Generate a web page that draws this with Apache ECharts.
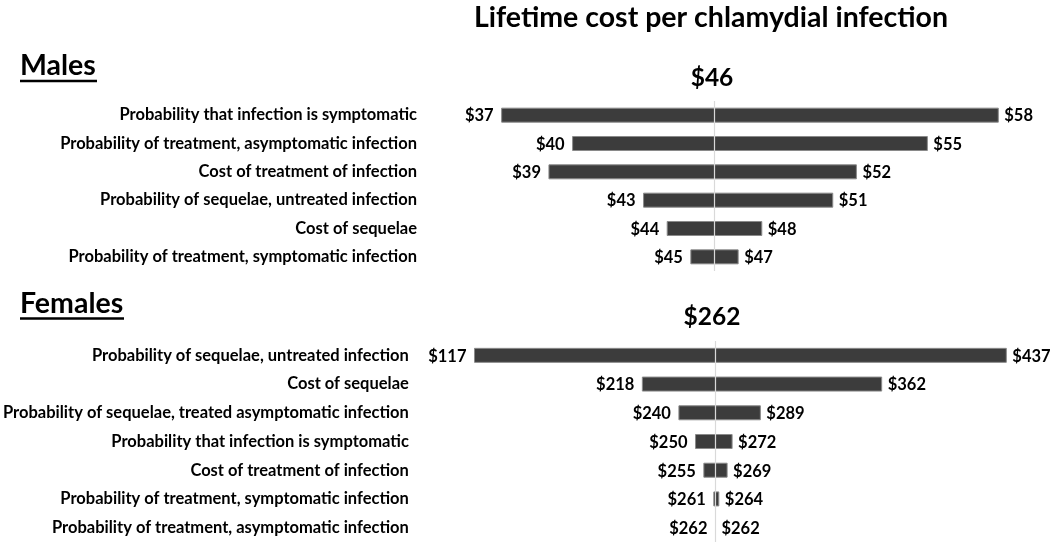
<!DOCTYPE html>
<html>
<head>
<meta charset="utf-8">
<script src="https://cdn.jsdelivr.net/npm/echarts@6/dist/echarts.min.js"></script>
<style>
  html, body { margin: 0; padding: 0; background: #ffffff; }
  #chart { width: 1050px; height: 542px; }
</style>
</head>
<body>
<div id="chart"></div>
<script>
// ---- Data ----
const chartTitle = 'Lifetime cost per chlamydial infection';

const maleTitle = 'Males';
const maleBase = 46;
const maleCategories = [
  'Probability that infection is symptomatic',
  'Probability of treatment, asymptomatic infection',
  'Cost of treatment of infection',
  'Probability of sequelae, untreated infection',
  'Cost of sequelae',
  'Probability of treatment, symptomatic infection'
];
const maleLow  = [37, 40, 39, 43, 44, 45];
const maleHigh = [58, 55, 52, 51, 48, 47];

const femaleTitle = 'Females';
const femaleBase = 262;
const femaleCategories = [
  'Probability of sequelae, untreated infection',
  'Cost of sequelae',
  'Probability of sequelae, treated asymptomatic infection',
  'Probability that infection is symptomatic',
  'Cost of treatment of infection',
  'Probability of treatment, symptomatic infection',
  'Probability of treatment, asymptomatic infection'
];
const femaleLow  = [117, 218, 240, 250, 255, 261, 262];
const femaleHigh = [437, 362, 289, 272, 269, 264, 262];

// ---- Styling ----
const FONT = 'Lato';
const BAR_FILL = '#3c3c3c';
const BAR_BORDER = '#8a8a8a';
const CENTER_LINE = '#d9d9d9';
const VALUE_FONT_SIZE = 16.5;
const CAT_FONT_SIZE = 16.5;

const GRID_LEFT = 430;
const GRID_WIDTH = 610;
const CENTER_X = 714.5;

function axisRange(base, pxPerUnit) {
  const min = base - (CENTER_X - GRID_LEFT) / pxPerUnit;
  return { min: min, max: min + GRID_WIDTH / pxPerUnit };
}
const maleRange = axisRange(maleBase, 23.65);
const femaleRange = axisRange(femaleBase, 1.667);

const fmt = v => '$' + v;

function buildData(low, high, base) {
  return low.map((l, i) => [i, l, high[i], base]);
}

function renderItem(params, api) {
  const cat = api.value(0);
  const low = api.value(1);
  const high = api.value(2);
  const base = api.value(3);
  const pLow = api.coord([low, cat]);
  const pBase = api.coord([base, cat]);
  const pHigh = api.coord([high, cat]);
  const bandH = api.size([0, 1])[1];
  const h = Math.round(bandH * 0.5);
  const y = pBase[1] - h / 2;
  const font = 'bold ' + VALUE_FONT_SIZE + 'px ' + FONT;
  const children = [];
  if (pBase[0] - pLow[0] > 0) {
    children.push({
      type: 'rect',
      shape: { x: pLow[0], y: y, width: pBase[0] - pLow[0], height: h },
      style: { fill: BAR_FILL, stroke: BAR_BORDER, lineWidth: 1 }
    });
  }
  if (pHigh[0] - pBase[0] > 0) {
    children.push({
      type: 'rect',
      shape: { x: pBase[0], y: y, width: pHigh[0] - pBase[0], height: h },
      style: { fill: BAR_FILL, stroke: BAR_BORDER, lineWidth: 1 }
    });
  }
  children.push({
    type: 'text',
    x: pLow[0] - 8, y: pBase[1] + 1,
    style: { text: fmt(low), font: font, fill: '#000', align: 'right', verticalAlign: 'middle' }
  });
  children.push({
    type: 'text',
    x: pHigh[0] + 6, y: pBase[1] + 1,
    style: { text: fmt(high), font: font, fill: '#000', align: 'left', verticalAlign: 'middle' }
  });
  return { type: 'group', children: children };
}

function centerMark(base) {
  return {
    silent: true,
    symbol: 'none',
    label: { show: false },
    lineStyle: { color: CENTER_LINE, width: 1.2, type: 'solid' },
    data: [{ xAxis: base }],
    z: 10
  };
}

const chart = echarts.init(document.getElementById('chart'), null, { renderer: 'canvas' });

const catAxisCommon = {
  type: 'category',
  inverse: true,
  axisLine: { show: false },
  axisTick: { show: false },
  splitLine: { show: false }
};

const option = {
  backgroundColor: '#ffffff',
  animation: false,
  textStyle: { fontFamily: FONT },
  grid: [
    { left: GRID_LEFT, width: GRID_WIDTH, top: 101, height: 170 },
    { left: GRID_LEFT, width: GRID_WIDTH, top: 341, height: 202 }
  ],
  xAxis: [
    { type: 'value', gridIndex: 0, min: maleRange.min, max: maleRange.max, show: false },
    { type: 'value', gridIndex: 1, min: femaleRange.min, max: femaleRange.max, show: false }
  ],
  yAxis: [
    Object.assign({}, catAxisCommon, {
      gridIndex: 0, data: maleCategories,
      axisLabel: { margin: 13, color: '#000', fontWeight: 'bold', fontSize: CAT_FONT_SIZE, fontFamily: FONT }
    }),
    Object.assign({}, catAxisCommon, {
      gridIndex: 1, data: femaleCategories,
      axisLabel: { margin: 23, color: '#000', fontWeight: 'bold', fontSize: CAT_FONT_SIZE, fontFamily: FONT }
    })
  ],
  series: [
    {
      type: 'custom', name: maleTitle, xAxisIndex: 0, yAxisIndex: 0,
      renderItem: renderItem, clip: false,
      encode: { x: [1, 2, 3], y: 0 },
      data: buildData(maleLow, maleHigh, maleBase),
      markLine: centerMark(maleBase)
    },
    {
      type: 'custom', name: femaleTitle, xAxisIndex: 1, yAxisIndex: 1,
      renderItem: renderItem, clip: false,
      encode: { x: [1, 2, 3], y: 0 },
      data: buildData(femaleLow, femaleHigh, femaleBase),
      markLine: centerMark(femaleBase)
    }
  ],
  graphic: [
    { type: 'text', x: 711, y: 18, style: { text: chartTitle, font: 'bold 28.5px ' + FONT, fill: '#000', align: 'center', verticalAlign: 'middle' } },
    { type: 'text', x: 20, y: 66, style: { text: maleTitle, font: 'bold 28.5px ' + FONT, fill: '#000', align: 'left', verticalAlign: 'middle' } },
    { type: 'line', shape: { x1: 20, y1: 81, x2: 97, y2: 81 }, style: { stroke: '#000', lineWidth: 2.5 } },
    { type: 'text', x: 712, y: 78, style: { text: fmt(maleBase), font: 'bold 24.5px ' + FONT, fill: '#000', align: 'center', verticalAlign: 'middle' } },
    { type: 'text', x: 20, y: 304, style: { text: femaleTitle, font: 'bold 28.5px ' + FONT, fill: '#000', align: 'left', verticalAlign: 'middle' } },
    { type: 'line', shape: { x1: 20, y1: 318.5, x2: 124, y2: 318.5 }, style: { stroke: '#000', lineWidth: 2.5 } },
    { type: 'text', x: 712, y: 317, style: { text: fmt(femaleBase), font: 'bold 24.5px ' + FONT, fill: '#000', align: 'center', verticalAlign: 'middle' } }
  ]
};

chart.setOption(option);
</script>
</body>
</html>
